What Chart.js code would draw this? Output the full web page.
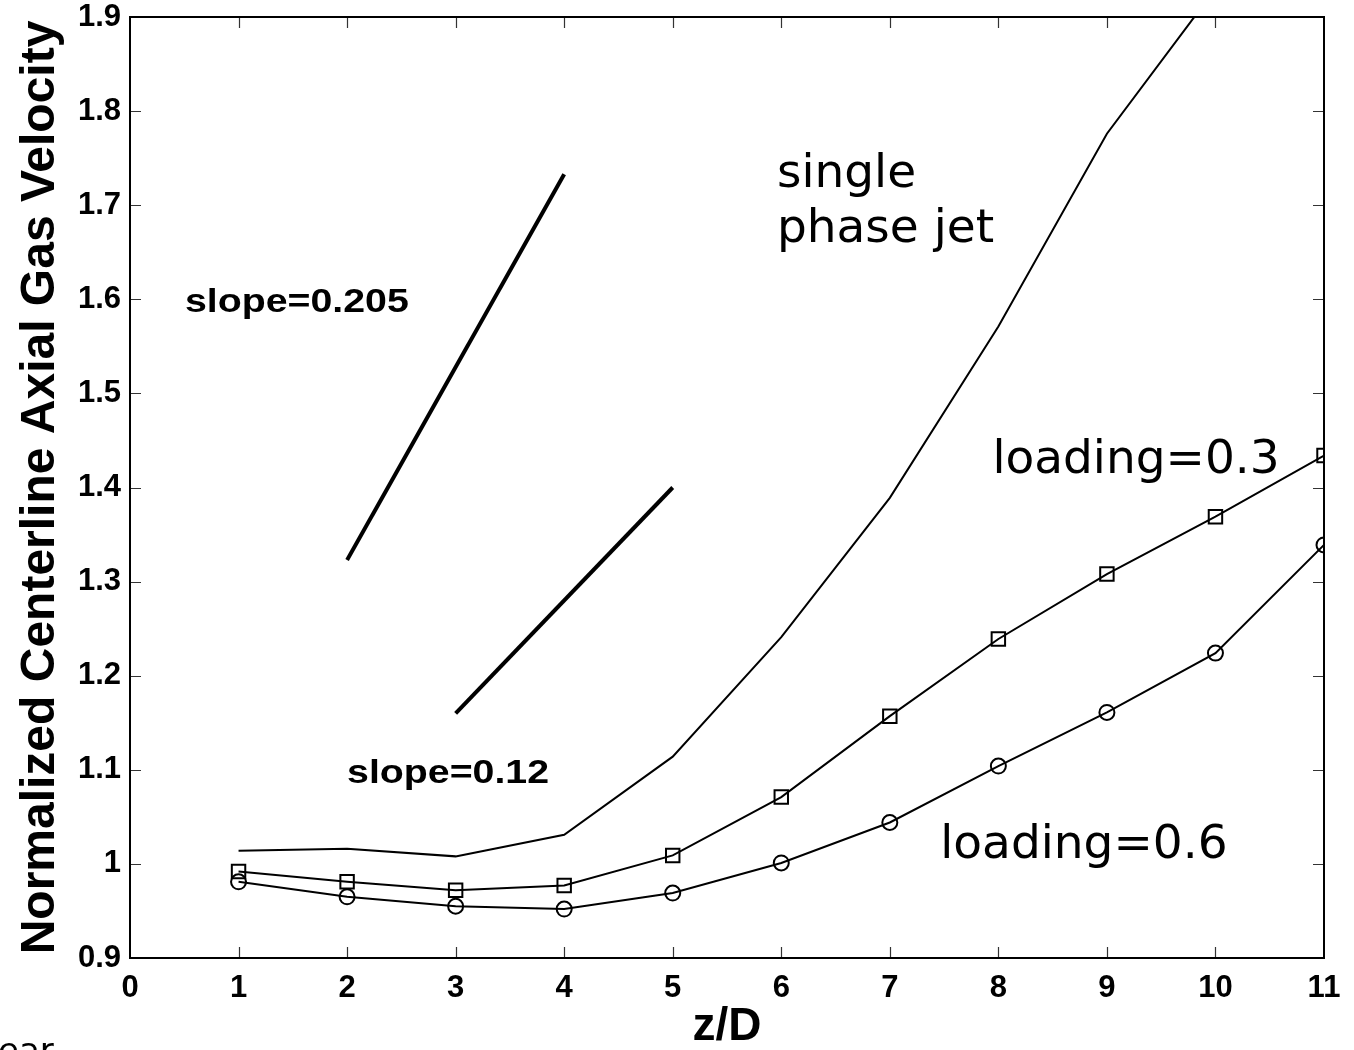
<!DOCTYPE html>
<html>
<head>
<meta charset="utf-8">
<script src="https://cdn.jsdelivr.net/npm/chart.js@4.4.1/dist/chart.umd.min.js"></script>
<style>
  html, body { margin: 0; padding: 0; background: #fff; overflow: hidden; }
  #wrap { width: 1354px; height: 1050px; position: relative; }
</style>
</head>
<body>
<div id="wrap"><canvas id="velChart"></canvas></div>
<script>
const zD = [1, 2, 3, 4, 5, 6, 7, 8, 9, 10];
const zDLoaded = [1, 2, 3, 4, 5, 6, 7, 8, 9, 10, 11];
const singlePhase = [1.014, 1.016, 1.008, 1.031, 1.114, 1.241, 1.389, 1.571, 1.776, 1.93];
const loading03 = [0.992, 0.981, 0.972, 0.977, 1.009, 1.071, 1.157, 1.239, 1.308, 1.369, 1.434];
const loading06 = [0.981, 0.965, 0.955, 0.952, 0.969, 1.001, 1.044, 1.104, 1.161, 1.224, 1.339];
const slope205 = [{ x: 2, y: 1.323 }, { x: 4, y: 1.733 }];
const slope012 = [{ x: 3, y: 1.16 }, { x: 5, y: 1.40 }];

// text labels, anchored in data units (left edge, baseline)
const notes = [
    { text: 'single', x: 5.96, y: 1.719, font: '47px "DejaVu Sans"', stretch: 1 },
    { text: 'phase jet', x: 5.96, y: 1.661, font: '47px "DejaVu Sans"', stretch: 1 },
    { text: 'loading=0.3', x: 7.945, y: 1.4155, font: '47px "DejaVu Sans"', stretch: 1 },
    { text: 'loading=0.6', x: 7.465, y: 1.0067, font: '47px "DejaVu Sans"', stretch: 1 },
    { text: 'slope=0.205', x: 0.507, y: 1.5865, font: 'bold 33px "Liberation Sans"', stretch: 1.19 },
    { text: 'slope=0.12', x: 2.0, y: 1.0863, font: 'bold 33px "Liberation Sans"', stretch: 1.19 }
];

function toPoints(xs, ys) {
    return ys.map((v, i) => ({ x: xs[i], y: v }));
}

const frameAndNotes = {
    id: 'frameAndNotes',
    afterDatasetsDraw(chart) {
        const ctx = chart.ctx;
        const area = chart.chartArea;
        const xs = chart.scales.x;
        const ys = chart.scales.y;

        ctx.save();
        // inward ticks on all four sides
        ctx.strokeStyle = '#333';
        ctx.lineWidth = 1.2;
        ctx.beginPath();
        for (let v = 1; v < 11; v++) {
            const px = Math.round(xs.getPixelForValue(v)) + 0.5;
            ctx.moveTo(px, area.bottom);
            ctx.lineTo(px, area.bottom - 11);
            ctx.moveTo(px, area.top);
            ctx.lineTo(px, area.top + 11);
        }
        for (let k = 1; k < 10; k++) {
            const py = Math.round(ys.getPixelForValue(0.9 + k / 10)) + 0.5;
            ctx.moveTo(area.left, py);
            ctx.lineTo(area.left + 11, py);
            ctx.moveTo(area.right, py);
            ctx.lineTo(area.right - 11, py);
        }
        ctx.stroke();

        // box
        ctx.strokeStyle = '#000';
        ctx.lineWidth = 2;
        ctx.strokeRect(area.left, area.top, area.right - area.left, area.bottom - area.top);

        // annotations
        ctx.fillStyle = '#000';
        ctx.textBaseline = 'alphabetic';
        ctx.textAlign = 'left';
        notes.forEach(n => {
            const px = xs.getPixelForValue(n.x);
            const py = ys.getPixelForValue(n.y);
            ctx.save();
            ctx.font = n.font;
            ctx.translate(px, py);
            ctx.scale(n.stretch, 1);
            ctx.fillText(n.text, 0, 0);
            ctx.restore();
        });

        // cut off text from the page below the figure
        ctx.font = '34px "DejaVu Sans"';
        ctx.fillText('ear', -2, 1062);
        ctx.restore();
    }
};

document.addEventListener('DOMContentLoaded', function() {
    const ctx = document.getElementById('velChart');
    new Chart(ctx.getContext('2d'), {
        type: 'line',
        data: {
            datasets: [
                {
                    label: 'single phase jet',
                    data: toPoints(zD, singlePhase),
                    borderColor: '#000',
                    borderWidth: 2,
                    pointRadius: 0
                },
                {
                    label: 'loading=0.3',
                    data: toPoints(zDLoaded, loading03),
                    borderColor: '#000',
                    borderWidth: 2,
                    pointStyle: 'rect',
                    pointRadius: 9.5,
                    pointBorderWidth: 2,
                    pointBackgroundColor: 'rgba(0,0,0,0)',
                    pointBorderColor: '#000'
                },
                {
                    label: 'loading=0.6',
                    data: toPoints(zDLoaded, loading06),
                    borderColor: '#000',
                    borderWidth: 2,
                    pointStyle: 'circle',
                    pointRadius: 7.5,
                    pointBorderWidth: 2,
                    pointBackgroundColor: 'rgba(0,0,0,0)',
                    pointBorderColor: '#000'
                },
                {
                    label: 'slope=0.205',
                    data: slope205,
                    borderColor: '#000',
                    borderWidth: 4,
                    pointRadius: 0
                },
                {
                    label: 'slope=0.12',
                    data: slope012,
                    borderColor: '#000',
                    borderWidth: 4,
                    pointRadius: 0
                }
            ]
        },
        options: {
            responsive: true,
            maintainAspectRatio: false,
            animation: false,
            layout: { padding: { top: 17, right: 30, left: 0, bottom: 0 } },
            plugins: {
                legend: { display: false },
                tooltip: { enabled: false }
            },
            scales: {
                x: {
                    type: 'linear',
                    min: 0,
                    max: 11,
                    afterFit: s => {
                        s.height = 92;
                        s.paddingLeft = 0;
                        s.paddingRight = 0;
                    },
                    grid: { display: false, drawTicks: false },
                    border: { display: false },
                    ticks: {
                        stepSize: 1,
                        color: '#000',
                        padding: 12,
                        maxRotation: 0,
                        font: { family: '"Liberation Sans"', size: 31, weight: 'bold' }
                    },
                    title: {
                        display: true,
                        text: 'z/D',
                        color: '#000',
                        padding: { top: 0, bottom: 0 },
                        font: { family: '"Liberation Sans"', size: 46, weight: 'bold', lineHeight: 1 }
                    }
                },
                y: {
                    min: 0.9,
                    max: 1.9,
                    afterFit: s => {
                        s.width = 130;
                        s.paddingTop = 0;
                        s.paddingBottom = 0;
                    },
                    grid: { display: false, drawTicks: false },
                    border: { display: false },
                    ticks: {
                        stepSize: 0.1,
                        color: '#000',
                        padding: 9,
                        font: { family: '"Liberation Sans"', size: 31, weight: 'bold' },
                        callback: v => String(Number(v.toFixed(1)))
                    },
                    title: {
                        display: true,
                        text: 'Normalized Centerline Axial Gas Velocity',
                        color: '#000',
                        padding: { top: 12, bottom: 0 },
                        font: { family: '"Liberation Sans"', size: 48, weight: 'bold' }
                    }
                }
            }
        },
        plugins: [frameAndNotes]
    });
});
</script>
</body>
</html>
